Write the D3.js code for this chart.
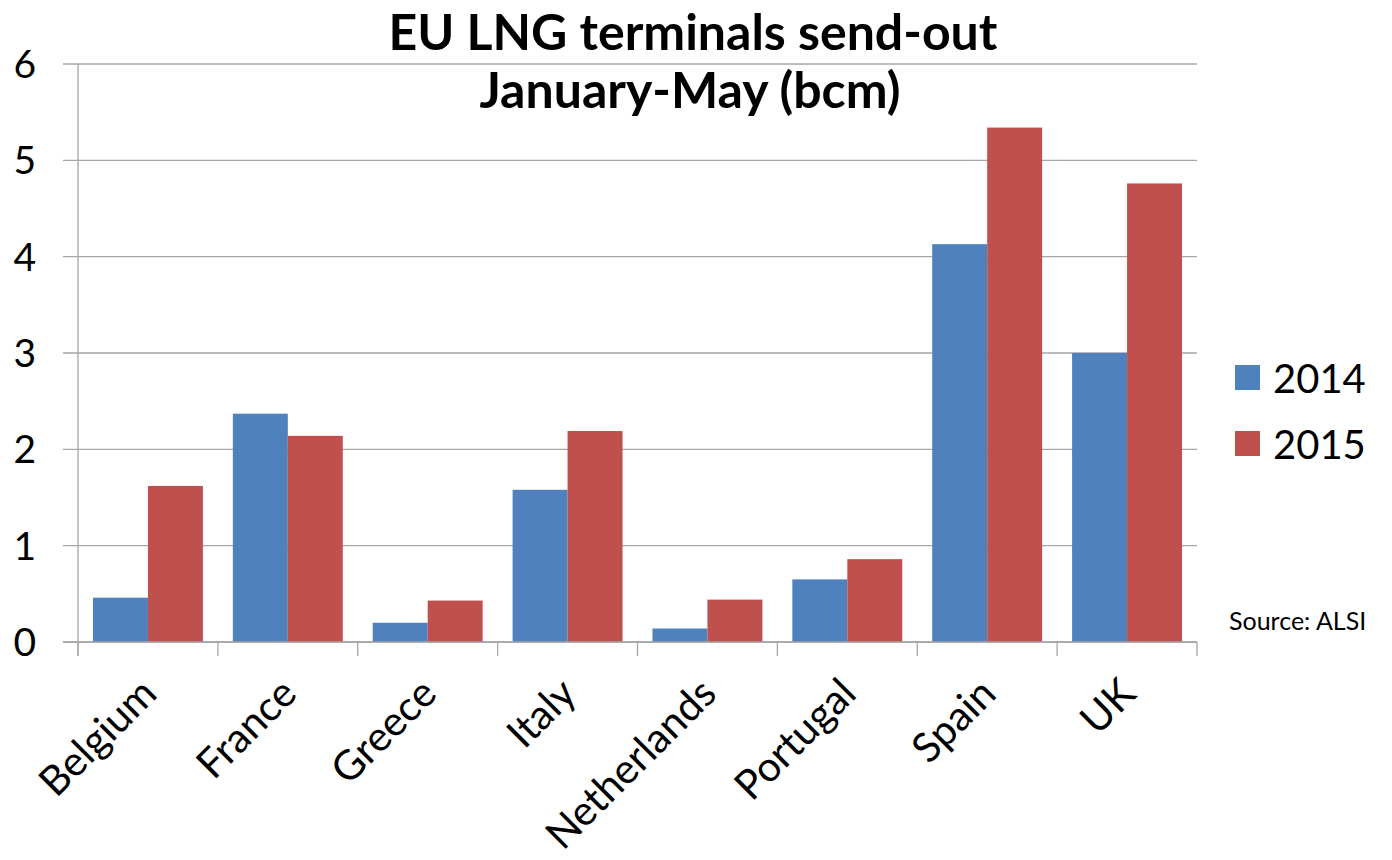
<!DOCTYPE html>
<html>
<head>
<meta charset="utf-8">
<script src="https://cdn.jsdelivr.net/npm/d3@7"></script>
<style>
  body { margin: 0; background: #fff; }
  text { font-family: Lato, "Open Sans", sans-serif; fill: #000; }
</style>
</head>
<body>
<svg id="chart" width="1392" height="860"></svg>
<script>
const countries = ["Belgium", "France", "Greece", "Italy", "Netherlands", "Portugal", "Spain", "UK"];
const years = ["2014", "2015"];
const values2014 = [0.46, 2.37, 0.2, 1.58, 0.14, 0.65, 4.13, 3.0];
const values2015 = [1.62, 2.14, 0.43, 2.19, 0.44, 0.86, 5.34, 4.76];
const yTicks = [0, 1, 2, 3, 4, 5, 6];
const colours = ["#4F81BD", "#C0504D"];

const svg = d3.select("#chart");
const plotLeft = 78, plotRight = 1197, plotTop = 64, plotBottom = 642;

const x = d3.scaleBand()
    .domain(countries)
    .range([plotLeft, plotRight])
    .paddingInner(0.214)
    .paddingOuter(0.107);

const xs = d3.scaleBand()
    .domain(years)
    .range([0, x.bandwidth()]);

const y = d3.scaleLinear()
    .domain([0, 6])
    .range([plotBottom, plotTop]);

// gridlines
svg.append("g")
    .selectAll("line")
    .data(yTicks)
    .join("line")
    .attr("x1", plotLeft - 15)
    .attr("x2", plotRight)
    .attr("y1", d => y(d))
    .attr("y2", d => y(d))
    .attr("stroke", "#A6A6A6")
    .attr("stroke-width", 1.3);

// y labels
svg.append("g")
    .selectAll("text")
    .data(yTicks)
    .join("text")
    .attr("x", 36)
    .attr("y", d => y(d) + 14)
    .attr("text-anchor", "end")
    .style("font-size", "39px")
    .text(d => d);

// bars
const rows = countries.map((c, i) => ({ country: c, vals: [values2014[i], values2015[i]] }));
svg.append("g")
    .selectAll("g")
    .data(rows)
    .join("g")
    .attr("transform", d => `translate(${x(d.country)},0)`)
    .selectAll("rect")
    .data(d => d.vals.map((v, j) => ({ year: years[j], value: v, j })))
    .join("rect")
    .attr("x", d => xs(d.year))
    .attr("width", xs.bandwidth())
    .attr("y", d => y(d.value))
    .attr("height", d => y(0) - y(d.value))
    .attr("fill", d => colours[d.j]);

// axes lines
svg.append("line")
    .attr("x1", plotLeft).attr("x2", plotLeft)
    .attr("y1", plotTop).attr("y2", plotBottom + 14)
    .attr("stroke", "#A6A6A6").attr("stroke-width", 1.3);
svg.append("line")
    .attr("x1", plotLeft - 15).attr("x2", plotRight)
    .attr("y1", plotBottom).attr("y2", plotBottom)
    .attr("stroke", "#A6A6A6").attr("stroke-width", 1.3);

// category ticks
const step = x.step();
const bounds = d3.range(countries.length + 1).map(i => plotLeft + i * step);
svg.append("g")
    .selectAll("line")
    .data(bounds)
    .join("line")
    .attr("x1", d => d).attr("x2", d => d)
    .attr("y1", plotBottom).attr("y2", plotBottom + 14)
    .attr("stroke", "#A6A6A6").attr("stroke-width", 1.3);

// category labels
svg.append("g")
    .selectAll("text")
    .data(countries)
    .join("text")
    .attr("text-anchor", "end")
    .attr("transform", d => `translate(${x(d) + x.bandwidth() / 2 + 11},${plotBottom + 54}) rotate(-45)`)
    .style("font-size", "41px")
    .text(d => d);

// title
svg.append("text")
    .attr("x", 693).attr("y", 50)
    .attr("text-anchor", "middle")
    .style("font-size", "50px").style("font-weight", "bold")
    .text("EU LNG terminals send-out");
svg.append("text")
    .attr("x", 690).attr("y", 108)
    .attr("text-anchor", "middle")
    .style("font-size", "50px").style("font-weight", "bold")
    .text("January-May (bcm)");

// legend
const legend = svg.append("g")
    .selectAll("g")
    .data(years)
    .join("g")
    .attr("transform", (d, i) => `translate(1235,${365 + i * 66})`);
legend.append("rect")
    .attr("width", 25).attr("height", 25)
    .attr("fill", (d, i) => colours[i]);
legend.append("text")
    .attr("x", 38).attr("y", 28)
    .style("font-size", "40px")
    .text(d => d);

// source
svg.append("text")
    .attr("x", 1229).attr("y", 630)
    .style("font-size", "25px")
    .text("Source: ALSI");
</script>
</body>
</html>
